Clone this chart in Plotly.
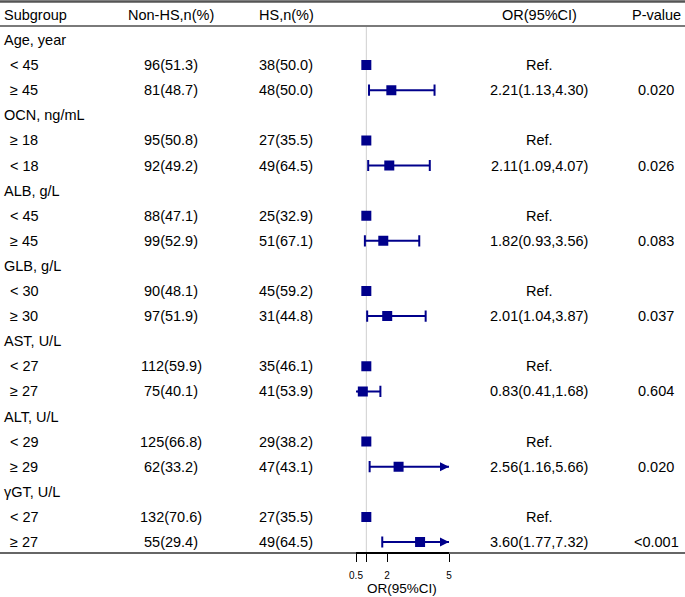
import plotly.graph_objects as go

# ---------------- data ----------------
subgroups = ["Age, year", "< 45", "≥ 45", "OCN, ng/mL", "≥ 18", "< 18",
             "ALB, g/L", "< 45", "≥ 45", "GLB, g/L", "< 30", "≥ 30",
             "AST, U/L", "< 27", "≥ 27", "ALT, U/L", "< 29", "≥ 29",
             "γGT, U/L", "< 27", "≥ 27"]
is_group = [True, False, False, True, False, False, True, False, False,
            True, False, False, True, False, False, True, False, False,
            True, False, False]
non_hs = ["", "96(51.3)", "81(48.7)", "", "95(50.8)", "92(49.2)",
          "", "88(47.1)", "99(52.9)", "", "90(48.1)", "97(51.9)",
          "", "112(59.9)", "75(40.1)", "", "125(66.8)", "62(33.2)",
          "", "132(70.6)", "55(29.4)"]
hs = ["", "38(50.0)", "48(50.0)", "", "27(35.5)", "49(64.5)",
      "", "25(32.9)", "51(67.1)", "", "45(59.2)", "31(44.8)",
      "", "35(46.1)", "41(53.9)", "", "29(38.2)", "47(43.1)",
      "", "27(35.5)", "49(64.5)"]
or_est = [None, 1, 2.21, None, 1, 2.11, None, 1, 1.82, None, 1, 2.01,
          None, 1, 0.83, None, 1, 2.56, None, 1, 3.60]
ci_lo = [None, None, 1.13, None, None, 1.09, None, None, 0.93, None, None, 1.04,
         None, None, 0.41, None, None, 1.16, None, None, 1.77]
ci_hi = [None, None, 4.30, None, None, 4.07, None, None, 3.56, None, None, 3.87,
         None, None, 1.68, None, None, 5.66, None, None, 7.32]
or_text = ["", "Ref.", "2.21(1.13,4.30)", "", "Ref.", "2.11(1.09,4.07)",
           "", "Ref.", "1.82(0.93,3.56)", "", "Ref.", "2.01(1.04,3.87)",
           "", "Ref.", "0.83(0.41,1.68)", "", "Ref.", "2.56(1.16,5.66)",
           "", "Ref.", "3.60(1.77,7.32)"]
p_values = ["", "", "0.020", "", "", "0.026", "", "", "0.083", "", "", "0.037",
            "", "", "0.604", "", "", "0.020", "", "", "<0.001"]
headers = ["Subgroup", "Non-HS,n(%)", "HS,n(%)", "OR(95%CI)", "P-value"]
x_ticks = [0.5, 1, 2, 5]
x_ticktext = ["0.5", "", "2", "5"]
x_lim = [0.5, 5]
ref_value = 1

# ---------------- layout constants ----------------
W, H = 685, 597
FONT = "Liberation Sans, Arial, sans-serif"
FS = 14.5
NAVY = "#00008B"
row_px0, row_step = 40.0, 25.1         # pixel of first row & spacing
axis_px = 553.0                        # pixel of bottom rule
px_per_unit = 20.67
x05_px = 356.0
xmin, xmax = -0.05, 5.5
dom_l = x05_px - (0.5 - xmin) * px_per_unit
dom_r = x05_px + (xmax - 0.5) * px_per_unit

n = len(subgroups)
rows = list(range(n))
y_top = (0 - row_px0) / row_step
y_bot = (axis_px - row_px0) / row_step

fig = go.Figure()

# CI segments (clipped to axis limits)
seg_x, seg_y = [], []
cap_x, cap_y, arr_r_x, arr_r_y, arr_l_x, arr_l_y = [], [], [], [], [], []
for i in rows:
    if ci_lo[i] is None:
        continue
    lo = max(ci_lo[i], x_lim[0])
    hi = min(ci_hi[i], x_lim[1])
    seg_x += [lo, hi, None]
    seg_y += [i, i, None]
    if ci_lo[i] < x_lim[0]:
        arr_l_x.append(lo); arr_l_y.append(i)
    else:
        cap_x.append(lo); cap_y.append(i)
    if ci_hi[i] > x_lim[1]:
        arr_r_x.append(hi); arr_r_y.append(i)
    else:
        cap_x.append(hi); cap_y.append(i)

# reference line
fig.add_trace(go.Scatter(x=[ref_value, ref_value], y=[-0.56, y_bot], mode="lines",
                         line=dict(color="#cfcfcf", width=1), hoverinfo="skip",
                         showlegend=False))
fig.add_trace(go.Scatter(x=seg_x, y=seg_y, mode="lines",
                         line=dict(color=NAVY, width=2), showlegend=False))
fig.add_trace(go.Scatter(x=cap_x, y=cap_y, mode="markers",
                         marker=dict(symbol="line-ns", size=8,
                                     line=dict(color=NAVY, width=2)),
                         showlegend=False))
fig.add_trace(go.Scatter(x=arr_r_x, y=arr_r_y, mode="markers",
                         marker=dict(symbol="arrow-right", size=9, color=NAVY,
                                     line=dict(width=0)),
                         showlegend=False))
fig.add_trace(go.Scatter(x=arr_l_x, y=arr_l_y, mode="markers",
                         marker=dict(symbol="arrow-left", size=9, color=NAVY,
                                     line=dict(width=0)),
                         showlegend=False))
pt_x = [or_est[i] for i in rows if or_est[i] is not None]
pt_y = [i for i in rows if or_est[i] is not None]
fig.add_trace(go.Scatter(x=pt_x, y=pt_y, mode="markers",
                         marker=dict(symbol="square", size=10, color=NAVY,
                                     line=dict(width=0)),
                         showlegend=False))

# ---------------- text table ----------------
def ann(text, xpx, y, anchor):
    fig.add_annotation(text=text, x=xpx / W, xref="paper", y=y, yref="y",
                       xanchor=anchor, yanchor="middle", showarrow=False,
                       font=dict(family=FONT, size=FS, color="black"))

col_px = [2, 171, 286, 539, 656]
anchors = ["left", "center", "center", "center", "center"]
for k, h in enumerate(headers):
    ann(h, col_px[k], -1, anchors[k])

for i in rows:
    ann(subgroups[i], 2 if is_group[i] else 8, i, "left")
    if non_hs[i]:
        ann(non_hs[i], col_px[1], i, "center")
    if hs[i]:
        ann(hs[i], col_px[2], i, "center")
    if or_text[i]:
        ann(or_text[i], col_px[3], i, "center")
    if p_values[i]:
        ann(p_values[i], col_px[4], i, "center")

# ---------------- rules ----------------
def hline(px, color, width):
    yp = 1 - px / H
    fig.add_shape(type="line", xref="paper", yref="paper", x0=0, x1=1,
                  y0=yp, y1=yp, line=dict(color=color, width=width))

hline(1.5, "#555555", 2.5)
hline(26, "#7a7a7a", 2)
hline(axis_px, "#666666", 2)
fig.add_shape(type="line", xref="x", yref="paper", x0=x_lim[0], x1=x_lim[1],
              y0=1 - axis_px / H, y1=1 - axis_px / H,
              line=dict(color="black", width=2))

fig.update_layout(
    width=W, height=H, margin=dict(l=0, r=0, t=0, b=0),
    paper_bgcolor="white", plot_bgcolor="white",
    xaxis=dict(domain=[dom_l / W, dom_r / W], range=[xmin, xmax],
               tickvals=x_ticks, ticktext=x_ticktext, ticks="outside",
               ticklen=8, tickwidth=1, tickcolor="black",
               ticklabelstandoff=5,
               showgrid=False, zeroline=False, showline=False,
               tickfont=dict(family=FONT, size=10, color="black"),
               title=dict(text="OR(95%CI)", standoff=0,
                          font=dict(family=FONT, size=13.5, color="black"))),
    yaxis=dict(domain=[1 - axis_px / H, 1], range=[y_bot, y_top],
               visible=False, showgrid=False, zeroline=False),
)

fig.write_html("out.html", config={"displayModeBar": False},
               post_script="document.body.style.margin='0';"
                           "document.body.style.overflow='hidden';")
